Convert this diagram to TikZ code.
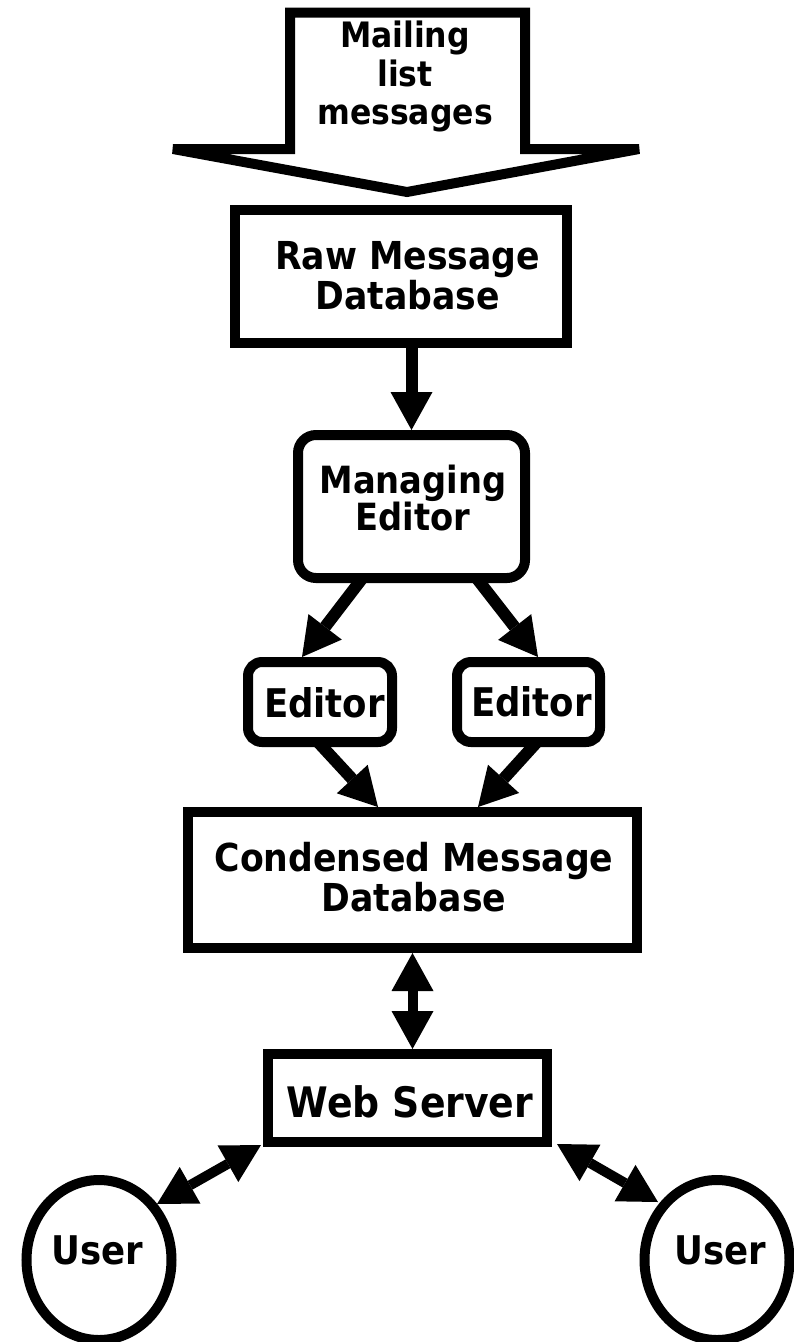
\documentclass[tikz,border=0pt]{standalone}
\usepackage{fontspec}
\setmainfont{DejaVu Sans Condensed}
\usetikzlibrary{arrows.meta,shapes.geometric,calc}
\begin{document}
\begin{tikzpicture}[x=1pt,y=-1pt,
  box/.style={draw, line width=10pt, inner sep=0pt, outer sep=0pt, fill=white},
  rbox/.style={box, rounded corners=18pt},
  userbox/.style={draw, ellipse, line width=10pt, inner sep=0pt, outer sep=0pt, minimum width=145pt, minimum height=160pt},
  txt/.style={inner sep=0pt, outer sep=0pt, align=center},
  BigTri/.tip={Triangle[length=38pt,width=42pt,line width=0pt]},
  conn/.style={line width=12pt, -BigTri},
  dconn/.style={line width=10pt, BigTri-BigTri},
]
\useasboundingbox (0,0) rectangle (794,1342);

% incoming block arrow
\draw[line width=10pt, fill=white, line join=miter]
  (290,12.5) -- (525,12.5) -- (525,149) -- (639,149) -- (407,192)
  -- (173,149) -- (290,149) -- cycle;
\node[txt, anchor=north, font=\fontsize{35}{38.5}\selectfont\bfseries] (mailt) at (405,21.4) {Mailing\\list\\messages};

% boxes
\node[box, minimum width=332pt, minimum height=133pt] (raw) at (401,276.5) {};
\node[txt, anchor=north, font=\fontsize{38.5}{40}\selectfont\bfseries] (rawt) at (407.5,241.9) {Raw Message\\Database};

\node[rbox, minimum width=227pt, minimum height=143pt] (mng) at (411.5,506.5) {};
\node[txt, anchor=north, font=\fontsize{37.5}{35}\selectfont\bfseries] (mngt) at (413,464.5) {Managing\\Editor};

\node[rbox, rounded corners=14pt, minimum width=144pt, minimum height=80pt] (edl) at (320,702) {};
\node[txt, anchor=base, font=\fontsize{39.5}{42}\selectfont\bfseries] (edlt) at (324.5,717) {Editor};
\node[rbox, rounded corners=14pt, minimum width=143pt, minimum height=80pt] (edr) at (528.5,702) {};
\node[txt, anchor=base, font=\fontsize{39.5}{42}\selectfont\bfseries] (edrt) at (531.5,716) {Editor};

\node[box, minimum width=449pt, minimum height=136pt] (cond) at (412.5,880) {};
\node[txt, anchor=north, font=\fontsize{38.5}{40}\selectfont\bfseries] (condt) at (414,842.7) {Condensed Message\\Database};

\node[box, minimum width=279pt, minimum height=88pt] (web) at (407.5,1098) {};
\node[txt, anchor=base, font=\fontsize{42}{44}\selectfont\bfseries] (webt) at (410,1117) {Web Server};

\node[userbox] (ul) at (99,1260) {};
\node[txt, anchor=base, font=\fontsize{39.5}{42}\selectfont\bfseries] (ult) at (97,1264) {User};
\node[userbox] (ur) at (717,1260) {};
\node[txt, anchor=base, font=\fontsize{39.5}{42}\selectfont\bfseries] (urt) at (720.5,1264) {User};

% connectors
\draw[conn] (raw.south -| mng.north) -- ($(mng.north)+(0,-5)$);
\draw[conn] ($(mng.south)+(-49,0)$) -- ($(edl.north)+(-18,-5)$);
\draw[conn] ($(mng.south)+(65,0)$) -- ($(edr.north)+(9.5,-5)$);
\draw[conn] ($(edl.south)+(-2,0)$) -- ($(cond.north)+(-34.5,-5)$);
\draw[conn] ($(edr.south)+(8.5,0)$) -- ($(cond.north)+(65.5,-5)$);
\draw[dconn] ($(cond.south)+(0,5)$) -- ($(cond.south |- web.north)+(0,-5)$);
\draw[dconn] ($(web.south west)+(-7,3)$) -- ($(ul.center)+(58,-56)$);
\draw[dconn] ($(web.south east)+(10,2)$) -- ($(ur.center)+(-59,-58)$);
\end{tikzpicture}
\end{document}
